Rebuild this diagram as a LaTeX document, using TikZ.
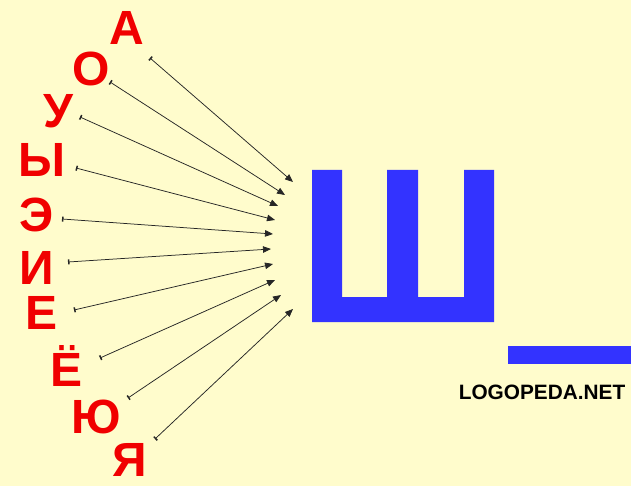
\documentclass[tikz,border=0pt]{standalone}
\usepackage{fontspec}
\setmainfont{Liberation Sans}
\usepackage{xcolor}
\usetikzlibrary{arrows.meta,positioning}
\definecolor{paper}{HTML}{FFFCCC}
\definecolor{vowelred}{HTML}{F00000}
\definecolor{letterblue}{HTML}{3333FF}
\tikzset{
  vowel/.style={text=vowelred,font=\bfseries\fontsize{48}{48}\selectfont,inner sep=0pt,anchor=center},
  linkarrow/.style={{Bar[width=5pt,line width=1.5pt]}-{Triangle[length=8pt,width=6.5pt]},line width=.75pt,draw=black!85}
}

\begin{document}
\begin{tikzpicture}[
  x=1pt,
  y=-1pt,
  sitemark/.style={
    inner sep=0pt,
    anchor=center,
    font=\bfseries\fontsize{20.8}{21}\selectfont
  }
]

  % --------------------------------------------------------------
  % Background sheet; it also fixes the bounding box.
  % --------------------------------------------------------------
  \fill[paper] (0,0) rectangle (631,486);


  % --------------------------------------------------------------
  % The consonant, drawn as one blue shape, and the blank after it.
  % --------------------------------------------------------------
  \fill[letterblue]
    (312,170) -- (342,170) -- (342,297) -- (387,297) -- (387,170)
    -- (418,170) -- (418,297) -- (464,297) -- (464,170) -- (494,170)
    -- (494,322) -- (312,322) -- cycle;

  \fill[letterblue] (508,346) rectangle (631,364);

  \node[sitemark] (site) at (542,392) {LOGOPEDA.NET};


  % --------------------------------------------------------------
  % Vowels on the arc to the left.
  % --------------------------------------------------------------
  \foreach \v/\txt/\px/\py in {
      vA/А/127/28, vO/О/91/69, vU/У/58/111, vY/Ы/42/160, vE/Э/37/215,
      vI/И/37/268, vJe/Е/42/313, vJo/Ё/67/366, vJu/Ю/96/417, vJa/Я/130/460}
    {\node[vowel] (\v) at (\px,\py) {\txt};}


  % --------------------------------------------------------------
  % Tails of the arrows, next to the vowels.
  % --------------------------------------------------------------
  \coordinate (tA)  at (150,58);
  \coordinate (tO)  at (110,82);
  \coordinate (tU)  at (80,117);
  \coordinate (tY)  at (76,168);
  \coordinate (tE)  at (62,219);
  \coordinate (tI)  at (68,262);
  \coordinate (tJe) at (74,310);
  \coordinate (tJo) at (100,358);
  \coordinate (tJu) at (128,398);
  \coordinate (tJa) at (155,439);


  % --------------------------------------------------------------
  % Heads of the arrows, on a small arc before the consonant.
  % --------------------------------------------------------------
  \coordinate (hA)  at (293,182);
  \coordinate (hO)  at (285,195);
  \coordinate (hU)  at (278,206);
  \coordinate (hY)  at (275,220);
  \coordinate (hE)  at (273,234);
  \coordinate (hI)  at (271,249);
  \coordinate (hJe) at (273,264);
  \coordinate (hJo) at (275,280);
  \coordinate (hJu) at (281,295);
  \coordinate (hJa) at (293,309);


  % Vowel --> consonant
  \foreach \v in {A,O,U,Y,E,I,Je,Jo,Ju,Ja}
    {\draw[linkarrow] (t\v) -- (h\v);}

\end{tikzpicture}
\end{document}
